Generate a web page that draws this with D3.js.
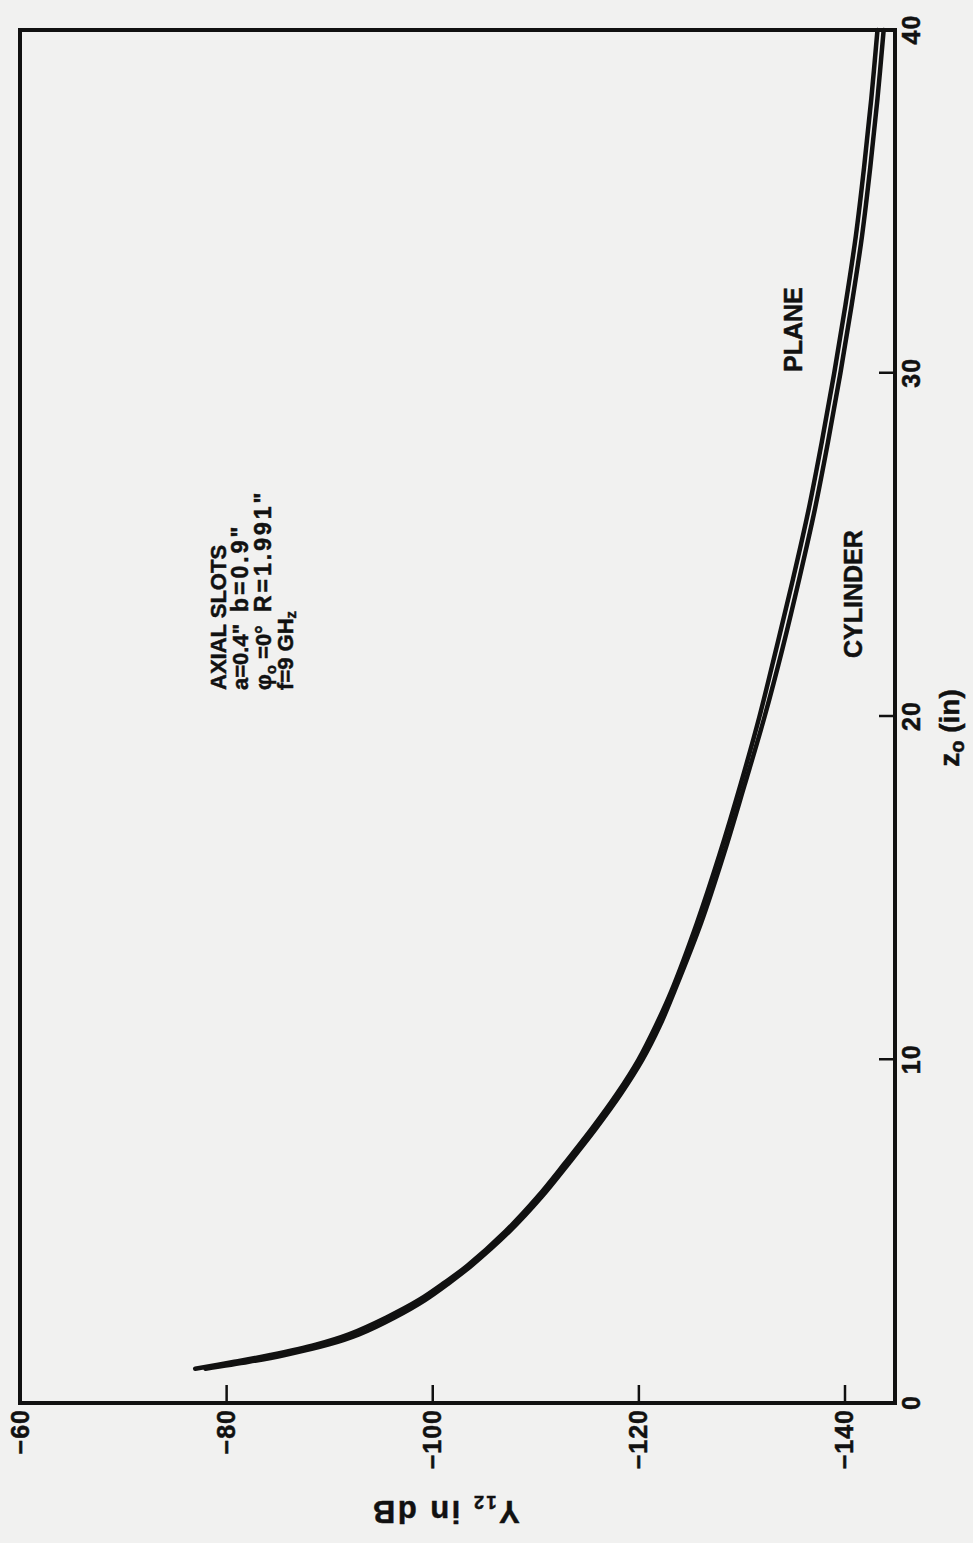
<!DOCTYPE html>
<html>
<head>
<meta charset="utf-8">
<script src="https://cdn.jsdelivr.net/npm/d3@7"></script>
<style>
  body { margin: 0; background: #f1f1f0; }
  svg { display: block; }
  text { font-family: "Liberation Sans", Arial, sans-serif; font-weight: bold; fill: #111; stroke: #111; stroke-width: 0.5px; }
</style>
</head>
<body>
<div id="chart"></div>
<script>
// z0 spacing in inches
var zValues = [1, 1.2, 1.4, 1.7, 2, 2.5, 3, 3.5, 4, 5, 6, 7, 8, 9, 10, 11, 12, 14, 16, 18, 20,
  22, 24, 26, 28, 30, 32, 34, 36, 38, 40];

// Y12 in dB
var planeDb = [-77.0, -80.8, -84.3, -88.7, -91.9, -95.6, -98.7, -101.15, -103.4, -107.1, -110.2,
  -112.9, -115.5, -117.9, -120.0, -121.7, -123.2, -125.7, -127.9, -129.9, -131.75,
  -133.4, -135.0, -136.5, -137.8, -139.0, -140.1, -141.1, -141.9, -142.6, -143.2];
var cylinderDb = [-78.0, -82.2, -85.7, -89.9, -92.9, -96.4, -99.3, -101.65, -103.8, -107.5, -110.6,
  -113.3, -115.9, -118.3, -120.4, -122.1, -123.5, -126.1, -128.3, -130.3, -132.25,
  -134.0, -135.6, -137.1, -138.4, -139.6, -140.7, -141.7, -142.5, -143.2, -143.8];

var zTicks = [0, 10, 20, 30, 40];
var dbTicks = [-60, -80, -100, -120, -140];

var noteLines = ['AXIAL SLOTS', 'a=0.4"', '\u03C6', 'f=9 GH'];
var noteRight = ['', 'b=0.9"', 'R=1.991"', ''];

// the whole chart is drawn upright and then turned a quarter turn (page is rotated)
var width = 1373,
  height = 875;

var svg = d3.select('#chart')
  .append('svg')
  .attr('width', 973)
  .attr('height', 1543);

var g = svg.append('g')
  .attr('transform', 'translate(20, 1403) rotate(-90)');

var xScale = d3.scaleLinear().domain([0, 40]).range([0, width]);
var yScale = d3.scaleLinear().domain([-60, -144.9]).range([0, height]);

var xAxis = d3.axisBottom(xScale)
  .tickValues(zTicks)
  .tickSizeInner(-16)
  .tickSizeOuter(0)
  .tickPadding(7)
  .tickFormat(d3.format('d'));

var yAxis = d3.axisLeft(yScale)
  .tickValues(dbTicks)
  .tickSizeInner(-18)
  .tickSizeOuter(0)
  .tickPadding(6)
  .tickFormat(d3.format('d'));

var gx = g.append('g')
  .attr('transform', 'translate(0,' + height + ')')
  .call(xAxis);

var gy = g.append('g').call(yAxis);

[gx, gy].forEach(function (a) {
  a.select('.domain').remove();
  a.selectAll('.tick line').attr('stroke', '#111').attr('stroke-width', 2.5);
  a.selectAll('.tick text')
    .attr('font-size', 25)
    .attr('letter-spacing', 1)
    .attr('fill', '#111')
    .style('font-family', '"Liberation Sans", Arial, sans-serif');
});

// frame
g.append('rect')
  .attr('x', 0)
  .attr('y', 0)
  .attr('width', width)
  .attr('height', height)
  .attr('fill', 'none')
  .attr('stroke', '#111')
  .attr('stroke-width', 4);

var line = d3.line()
  .x(function (d) { return xScale(d[0]); })
  .y(function (d) { return yScale(d[1]); })
  .curve(d3.curveCatmullRom.alpha(0.5));

[planeDb, cylinderDb].forEach(function (series) {
  g.append('path')
    .datum(zValues.map(function (z, i) { return [z, series[i]]; }))
    .attr('d', line)
    .attr('fill', 'none')
    .attr('stroke', '#111')
    .attr('stroke-width', 4.5)
    .attr('stroke-linecap', 'round');
});

// curve labels
g.append('text')
  .attr('x', 1031)
  .attr('y', 782)
  .attr('font-size', 25)
  .text('PLANE');

g.append('text')
  .attr('x', 745)
  .attr('y', 842)
  .attr('font-size', 25)
  .text('CYLINDER');

// parameter block
var noteY = [206, 228, 251, 273];
noteLines.forEach(function (t, i) {
  var txt = g.append('text')
    .attr('x', 713)
    .attr('y', noteY[i])
    .attr('font-size', 22)
    .text(t);
  if (i === 2) {
    txt.append('tspan').attr('font-size', 15).attr('dy', 5).text('o');
    txt.append('tspan').attr('dy', -5).text(' =0\u00B0');
  }
  if (i === 3) {
    txt.append('tspan').attr('font-size', 15).attr('dy', 3).text('z');
  }
});
noteRight.forEach(function (t, i) {
  if (!t) return;
  g.append('text')
    .attr('x', 791)
    .attr('y', noteY[i])
    .attr('font-size', 23)
    .attr('letter-spacing', 3)
    .text(t);
});

// axis titles
var xTitle = g.append('text')
  .attr('x', 675)
  .attr('y', 939)
  .attr('text-anchor', 'middle')
  .attr('font-size', 28)
  .text('z');
xTitle.append('tspan').attr('font-size', 20).attr('dy', 5).text('o');
xTitle.append('tspan').attr('dy', -5).text(' (in)');

var yTitle = g.append('text')
  .attr('transform', 'translate(-98,' + 425 + ') rotate(-90)')
  .attr('text-anchor', 'middle')
  .attr('font-size', 31)
  .attr('letter-spacing', 2.5)
  .text('Y');
yTitle.append('tspan').attr('font-size', 18).attr('dy', 5).text('12');
yTitle.append('tspan').attr('dy', -5).text('  in  dB');
</script>
</body>
</html>
